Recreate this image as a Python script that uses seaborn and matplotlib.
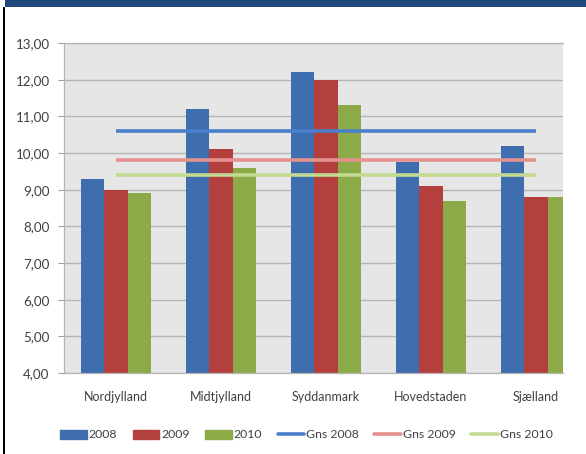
import matplotlib
matplotlib.use("Agg")
import matplotlib.pyplot as plt
import matplotlib.patches as mpatches
from matplotlib.lines import Line2D
from matplotlib.ticker import FuncFormatter, MultipleLocator
import seaborn as sns
import pandas as pd

# Data
regions = ["Nordjylland", "Midtjylland", "Syddanmark", "Hovedstaden", "Sjælland"]
years = ["2008", "2009", "2010"]
v2008 = [9.3, 11.2, 12.2, 9.75, 10.2]
v2009 = [9.0, 10.1, 12.0, 9.1, 8.8]
v2010 = [8.9, 9.6, 11.3, 8.7, 8.8]
gns_labels = ["Gns 2008", "Gns 2009", "Gns 2010"]
gns_values = [10.6, 9.8, 9.4]

bar_colors = ["#3E6EAE", "#B3403D", "#8CAA48"]
line_colors = ["#4A7FCB", "#E3928E", "#C3DA92"]

df = pd.DataFrame({
    "Region": regions * 3,
    "År": [y for y in years for _ in regions],
    "Værdi": v2008 + v2009 + v2010,
})

sns.set_theme(style="white")
plt.rcParams["font.family"] = ["Lato", "DejaVu Sans"]
text_color = "#404040"

W, H = 586, 454
fig = plt.figure(figsize=(W / 100, H / 100), dpi=100)

# Plot area (right side is cut off by the frame)
left, right, top, bottom = 63.5, 563, 43, 373
ax = fig.add_axes([left / W, 1 - bottom / H, (right - left) / W, (bottom - top) / H])
ax.set_facecolor("#E6E6E6")

sns.barplot(data=df, x="Region", y="Værdi", hue="År", palette=bar_colors,
            width=0.67, saturation=1, ax=ax, legend=False, zorder=2,
            linewidth=0)

xs = list(range(len(regions)))
for val, col in zip(gns_values, line_colors):
    ax.plot(xs, [val] * len(xs), color=col, lw=2.6, zorder=3,
            solid_capstyle="butt")

cat_width_px = 105
ax.set_xlim(-0.5, -0.5 + (right - left) / cat_width_px)
ax.set_ylim(4, 13)
ax.yaxis.set_major_locator(MultipleLocator(1))
ax.yaxis.set_major_formatter(FuncFormatter(lambda v, p: f"{v:.2f}".replace(".", ",")))
ax.grid(axis="y", color="#B5B5B5", lw=1.0, zorder=0)
ax.set_axisbelow(True)

ax.set_xlabel("")
ax.set_ylabel("")
ax.tick_params(axis="y", which="major", left=True, length=4, width=0.8,
               color="#A0A0A0", pad=6, labelsize=9.6, labelcolor=text_color)
ax.tick_params(axis="x", length=0, pad=13, labelsize=9, labelcolor=text_color)

ax.spines["right"].set_visible(False)
for s in ["left", "bottom", "top"]:
    ax.spines[s].set_color("#B5B5B5")
    ax.spines[s].set_linewidth(0.9)

# Legend
handles = [mpatches.Patch(color=c, label=y) for c, y in zip(bar_colors, years)]
handles += [Line2D([0], [0], color=c, lw=2.6, label=l) for c, l in zip(line_colors, gns_labels)]
leg = fig.legend(handles=handles, loc="center left", bbox_to_anchor=(60 / W, 1 - 435 / H),
                 ncol=6, frameon=False, fontsize=8.8, handlelength=2.2,
                 handletextpad=0.15, columnspacing=1.25, handleheight=0.7,
                 borderpad=0, borderaxespad=0)
for t in leg.get_texts():
    t.set_color(text_color)

# Header strip and left frame line
fig.add_artist(mpatches.Rectangle((5 / W, 1 - 7 / H), 1, 7 / H,
                                  transform=fig.transFigure, color="#1F497D", lw=0))
fig.add_artist(mpatches.Rectangle((2.5 / W, 0), 2.8 / W, 1 - 7 / H,
                                  transform=fig.transFigure, color="#000000", lw=0))

fig.savefig("out.png", dpi=100, facecolor="white")
